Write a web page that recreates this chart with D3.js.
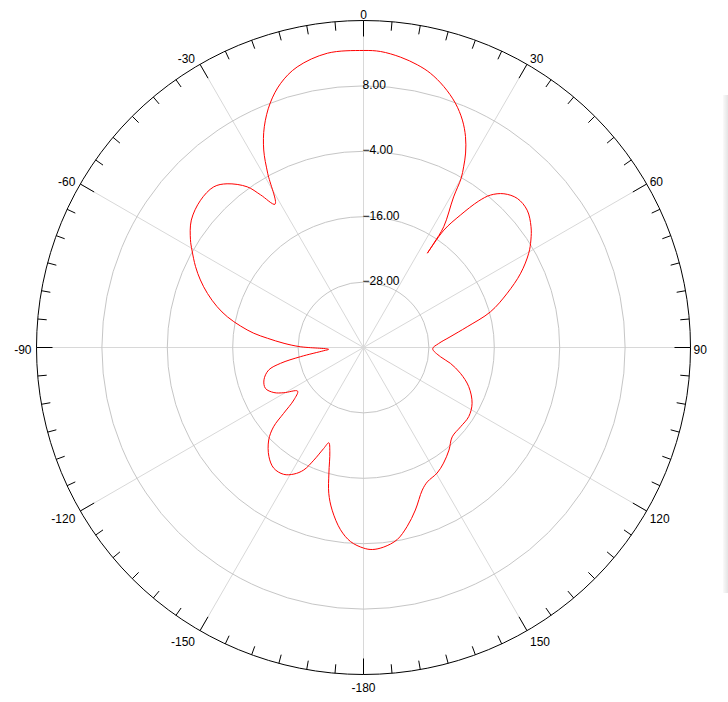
<!DOCTYPE html>
<html>
<head>
<meta charset="utf-8">
<script src="https://cdn.jsdelivr.net/npm/d3@7"></script>
<style>
    body { margin: 0; background: #fff; }
    svg { display: block; font-family: "Liberation Sans", Arial, sans-serif; }
</style>
</head>
<body>
<div id="chart"></div>
<script>
// pattern samples (degrees clockwise from top, dB)
const angles = [
    -176.2, -172.8, -169.1, -166.6, -164.6, -162.1, -160.0, -158.5, -156.2, -154.0,
    -151.2, -147.8, -143.4, -139.1, -134.3, -131.4, -129.5, -127.0, -123.5, -119.6,
    -116.7, -112.6, -108.0, -103.4, -100.8, -98.3, -94.6, -93.0, -89.3, -87.0,
    -84.5, -82.6, -80.1, -77.3, -74.4, -70.9, -67.5, -64.3, -60.4, -58.1,
    -53.5, -47.9, -43.0, -39.8, -35.9, -34.0, -31.7, -28.8, -26.8, -24.2,
    -20.9, -17.4, -13.3, -7.0, 0, 3.3, 7.3, 10.8, 13.7, 17.1,
    20.6, 23.5, 25.8, 27.7, 29.0, 30.0, 30.9, 33.6, 34.0, 34.1,
    34.4, 36.2, 38.2, 39.8, 42.4, 45.9, 50.0, 54.2, 57.3, 60.3,
    64.7, 69.3, 74.3, 78.7, 83.0, 87.0, 91.0, 96.8, 100.3, 104.9,
    110.4, 117.2, 123.3, 129.2, 135.2, 140.2, 145.3, 149.6, 154.6, 157.6,
    162.3, 166.3, 170.1, 174.2, 177.5, 180.0
];
const gains = [
    -4.3, -6.3, -9.6, -12.5, -16.1, -19.9, -21.4, -20.1, -17.4, -15.0,
    -13.5, -12.5, -12.4, -13.5, -15.7, -18.0, -21.0, -24.0, -25.5, -23.2,
    -21.6, -20.5, -20.8, -22.1, -24.5, -28.3, -32.7, -33.6, -28.4, -25.4,
    -22.3, -19.7, -17.1, -14.4, -12.1, -9.7, -7.6, -5.8, -3.8, -2.6,
    -0.7, 0.3, 0.3, -0.9, -3.6, -6.2, -9.1, -3.5, 0.6, 4.4,
    8.0, 10.8, 12.9, 14.4, 14.5, 14.4, 13.7, 12.8, 11.8, 10.1,
    7.9, 5.5, 3.0, 0.3, -2.1, -4.2, -7.8, -13.4, -16.9, -19.1,
    -13.9, -9.9, -5.8, -3.6, -1.8, -0.7, -0.8, -2.1, -3.5, -5.1,
    -8.1, -11.8, -15.8, -20.6, -24.0, -26.2, -27.3, -25.8, -23.8, -21.6,
    -19.4, -17.6, -16.9, -17.0, -16.9, -15.5, -14.2, -13.3, -12.7, -11.7,
    -8.7, -6.2, -4.2, -3.2, -2.9, -3.2
];
const ringValues = [-28, -16, -4, 8];
const angleLabels = [0, 30, 60, 90, 120, 150, -180, -150, -120, -90, -60, -30];

const width = 728;
const height = 702;
const cx = 363.5;
const cy = 347.5;
const outer = 327;

const r = d3.scaleLinear().domain([-40, 20]).range([0, outer]);
const rad = d => d * Math.PI / 180;

const svg = d3.select("#chart")
    .append("svg")
    .attr("width", width)
    .attr("height", height);

// gray panel edge at the right
const grad = svg.append("defs").append("linearGradient").attr("id", "edge");
grad.append("stop").attr("offset", "0%").attr("stop-color", "#fafafa");
grad.append("stop").attr("offset", "100%").attr("stop-color", "#e4e4e4");
svg.append("rect")
    .attr("x", 723).attr("y", 95)
    .attr("width", 5).attr("height", 498)
    .attr("fill", "url(#edge)");

const g = svg.append("g").attr("transform", `translate(${cx},${cy})`);

// spokes every 30 degrees
g.selectAll(".spoke")
    .data(d3.range(0, 360, 30))
    .enter()
    .append("line")
    .attr("class", "spoke")
    .attr("x1", 0).attr("y1", 0)
    .attr("x2", d => outer * Math.sin(rad(d)))
    .attr("y2", d => -outer * Math.cos(rad(d)))
    .attr("stroke", "#d8d8d8")
    .attr("stroke-width", 1);

// rings
g.selectAll(".ring")
    .data(ringValues)
    .enter()
    .append("circle")
    .attr("class", "ring")
    .attr("r", d => r(d))
    .attr("fill", "none")
    .attr("stroke", "#c6c6c6")
    .attr("stroke-width", 1);

g.append("circle")
    .attr("r", r(20))
    .attr("fill", "none")
    .attr("stroke", "#000")
    .attr("stroke-width", 1);

// ticks on the outer circle
g.selectAll(".tick")
    .data(d3.range(0, 360, 5))
    .enter()
    .append("line")
    .attr("class", "tick")
    .attr("x1", d => outer * Math.sin(rad(d)))
    .attr("y1", d => -outer * Math.cos(rad(d)))
    .attr("x2", d => (outer - (d % 30 === 0 ? 16 : 9)) * Math.sin(rad(d)))
    .attr("y2", d => -(outer - (d % 30 === 0 ? 16 : 9)) * Math.cos(rad(d)))
    .attr("stroke", "#000")
    .attr("stroke-width", 1);

// ring labels
g.selectAll(".ring-label")
    .data(ringValues)
    .enter()
    .append("text")
    .attr("class", "ring-label")
    .attr("x", -1)
    .attr("y", d => -r(d) + 3)
    .attr("font-size", 12)
    .attr("fill", "#000")
    .text(d => d3.format(".2f")(d));

// angle labels
g.selectAll(".angle-label")
    .data(angleLabels)
    .enter()
    .append("text")
    .attr("class", "angle-label")
    .attr("font-size", 12)
    .attr("fill", "#000")
    .attr("text-anchor", d => {
        const s = Math.sin(rad(d));
        return s > 0.01 ? "start" : s < -0.01 ? "end" : "middle";
    })
    .attr("x", d => {
        const s = Math.sin(rad(d));
        const off = s > 0.01 ? 3 : s < -0.01 ? -5 : 0;
        return outer * s + off;
    })
    .attr("y", d => {
        const c = Math.cos(rad(d));
        const off = c >= 0 ? 6 - 8 * c : 6 - 11 * c;
        return -outer * c + off;
    })
    .text(d => d);

// pattern
const pattern = d3.lineRadial()
    .angle(d => rad(d[0]))
    .radius(d => r(d[1]))
    .curve(d3.curveCatmullRomClosed.alpha(0.5));

g.append("path")
    .datum(angles.map((a, i) => [a, gains[i]]))
    .attr("d", pattern)
    .attr("fill", "none")
    .attr("stroke", "#ff0000")
    .attr("stroke-width", 1);
</script>
</body>
</html>
